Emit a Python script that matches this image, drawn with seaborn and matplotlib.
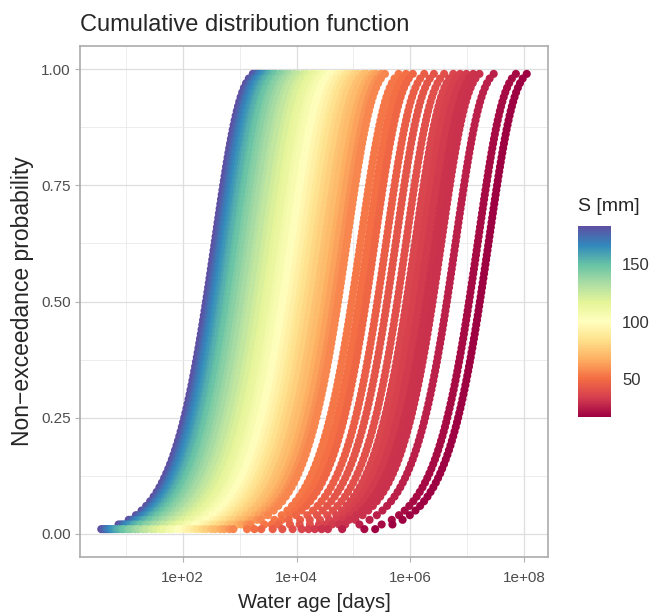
import numpy as np
import pandas as pd
import matplotlib
matplotlib.use("Agg")
import matplotlib.pyplot as plt
import seaborn as sns
from matplotlib.ticker import FixedLocator, FuncFormatter
from matplotlib.cm import ScalarMappable
from matplotlib.colors import Normalize

# storage S of each curve [mm]
storage_mm = [
    183, 179, 176, 172, 169, 165, 162, 158, 155, 151, 148, 144, 141, 137,
    134, 130, 127, 123, 120, 116, 113, 109, 106, 102, 99, 95, 92, 88, 85,
    81, 78, 74, 71, 67, 64, 60, 57,
    53, 51, 48, 45, 42, 40, 37, 35, 33, 31, 30, 26, 20, 17,
]
# water age where each curve crosses p = 0.5, log10(days)
median_log10_age = [
    2.41, 2.45, 2.48, 2.51, 2.54, 2.58, 2.62, 2.67, 2.71, 2.77, 2.81, 2.88,
    2.93, 3.00, 3.06, 3.14, 3.20, 3.29, 3.36, 3.45, 3.51, 3.60, 3.66, 3.75,
    3.81, 3.89, 3.96, 4.04, 4.10, 4.18, 4.25, 4.34, 4.41, 4.50, 4.57, 4.66,
    4.73,
    4.97, 5.10, 5.22, 5.42, 5.59, 5.77, 5.93, 6.05, 6.16, 6.28, 6.39, 6.64,
    7.03, 7.22,
]
prob_levels = np.arange(1, 100) / 100
s_limits = (17, 183)

x_breaks = [1e2, 1e4, 1e6, 1e8]
x_minor = [1e1, 1e3, 1e5, 1e7]
y_breaks = [0.0, 0.25, 0.5, 0.75, 1.0]
y_minor = [0.125, 0.375, 0.625, 0.875]
cbar_breaks = [50, 100, 150]

# exponential CDF per curve (scale from the read median)
frames = []
for s, m in zip(storage_mm, median_log10_age):
    tau = 10 ** m / np.log(2)
    ages = -tau * np.log(1 - prob_levels)
    frames.append(pd.DataFrame({"age": ages, "prob": prob_levels, "S": s}))
df = pd.concat(frames, ignore_index=True)

sns.set_style("white")
plt.rcParams["font.family"] = ["Liberation Sans", "DejaVu Sans"]

fig = plt.figure(figsize=(6.69, 6.16), dpi=100)
ax = fig.add_axes([80 / 669, 1 - 557 / 616, 468 / 669, 511 / 616])
ax.set_xscale("log")
ax.set_axisbelow(True)

sns.scatterplot(
    data=df, x="age", y="prob", hue="S", palette="Spectral",
    hue_norm=s_limits, s=34, linewidth=0, legend=False, ax=ax,
)

# ggplot-like 5% expansion on the log axis
lo, hi = np.log10(df["age"].min()), np.log10(df["age"].max())
pad = 0.05 * (hi - lo)
ax.set_xlim(10 ** (lo - pad), 10 ** (hi + pad))
ax.set_ylim(-0.05, 1.05)

ax.xaxis.set_major_locator(FixedLocator(x_breaks))
ax.xaxis.set_minor_locator(FixedLocator(x_minor))
ax.xaxis.set_major_formatter(FuncFormatter(lambda v, _: f"1e+{int(round(np.log10(v))):02d}"))
ax.xaxis.set_minor_formatter(FuncFormatter(lambda v, _: ""))
ax.yaxis.set_major_locator(FixedLocator(y_breaks))
ax.yaxis.set_minor_locator(FixedLocator(y_minor))
ax.yaxis.set_major_formatter(FuncFormatter(lambda v, _: f"{v:.2f}"))

ax.grid(which="major", color="#DEDEDE", linewidth=0.9)
ax.grid(which="minor", color="#E6E6E6", linewidth=0.5)
for sp in ax.spines.values():
    sp.set_color("#ABABAB")
    sp.set_linewidth(1.2)
ax.tick_params(which="major", length=3.5, color="#B3B3B3", labelsize=11,
               labelcolor="#4D4D4D", left=True, bottom=True)
ax.tick_params(axis="x", which="major", pad=6.5)
ax.tick_params(axis="y", which="major", pad=3)
ax.tick_params(which="minor", length=0)

ax.set_xlabel("Water age [days]", fontsize=14.6, labelpad=6)
ax.set_ylabel("Non\u2212exceedance probability", fontsize=16.5, labelpad=5)
ax.set_title("Cumulative distribution function", loc="left", fontsize=17, pad=11)

# colour bar for S
cax = fig.add_axes([578 / 669, 1 - 417 / 616, 33 / 669, 191 / 616])
sm = ScalarMappable(norm=Normalize(*s_limits), cmap="Spectral")
cb = fig.colorbar(sm, cax=cax)
cb.outline.set_visible(False)
cb.set_ticks(cbar_breaks)
cax.tick_params(direction="in", color="white", length=5, width=1,
                left=True, right=True, labelleft=False, labelright=True,
                labelsize=12, labelcolor="#333333", pad=8)
cax.set_title("S [mm]", loc="left", fontsize=14, pad=11)

fig.savefig("out.png", dpi=100)
